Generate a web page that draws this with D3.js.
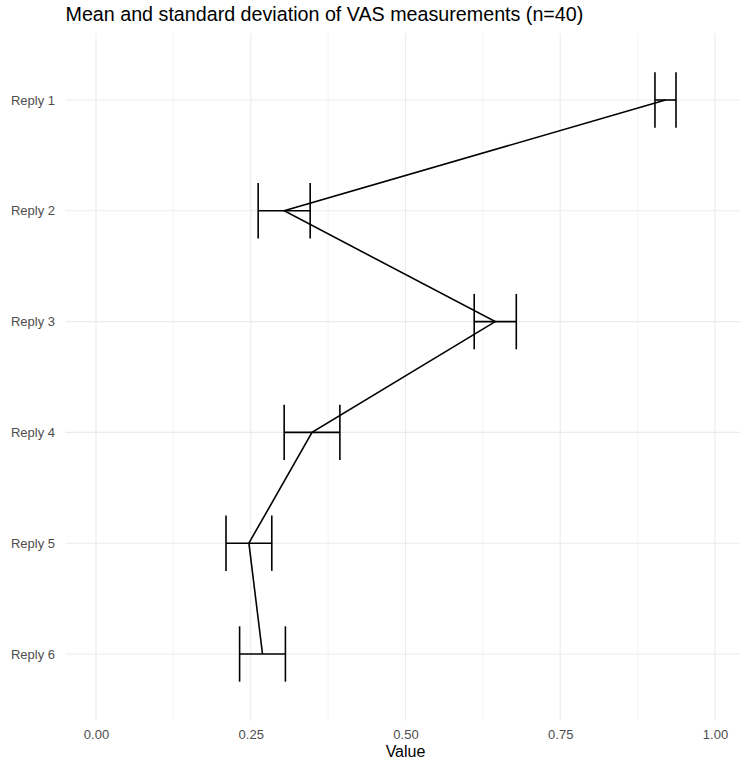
<!DOCTYPE html>
<html>
<head>
<meta charset="utf-8">
<script src="https://cdn.jsdelivr.net/npm/d3@7"></script>
<style>
  body { margin: 0; background: #fff; }
  svg { display: block; font-family: "Liberation Sans", Arial, sans-serif; }
</style>
</head>
<body>
<div id="chart"></div>
<script>
// data
const replies = ["Reply 1", "Reply 2", "Reply 3", "Reply 4", "Reply 5", "Reply 6"];
const means = [0.920, 0.304, 0.645, 0.349, 0.247, 0.269];
const sds = [0.017, 0.042, 0.034, 0.045, 0.037, 0.037];
const xTicks = [0, 0.25, 0.5, 0.75, 1];
const xMinor = [0.125, 0.375, 0.625, 0.875];

const width = 740, height = 762;
const panel = { left: 65.5, right: 740, top: 33.5, bottom: 720.5 };

const svg = d3.select("#chart").append("svg")
  .attr("width", width)
  .attr("height", height);

const x = d3.scaleLinear().domain([0, 1]).range([96, 715]);
const y = d3.scalePoint().domain(replies).range([100, 654]);
const band = y.step();

// grid
const grid = svg.append("g");
grid.selectAll("line.minor")
  .data(xMinor)
  .enter().append("line")
  .attr("x1", d => x(d)).attr("x2", d => x(d))
  .attr("y1", panel.top).attr("y2", panel.bottom)
  .attr("stroke", "#EBEBEB").attr("stroke-width", 0.55);
grid.selectAll("line.majx")
  .data(xTicks)
  .enter().append("line")
  .attr("x1", d => x(d)).attr("x2", d => x(d))
  .attr("y1", panel.top).attr("y2", panel.bottom)
  .attr("stroke", "#EBEBEB").attr("stroke-width", 1.1);
grid.selectAll("line.majy")
  .data(replies)
  .enter().append("line")
  .attr("x1", panel.left).attr("x2", panel.right)
  .attr("y1", d => y(d)).attr("y2", d => y(d))
  .attr("stroke", "#EBEBEB").attr("stroke-width", 1.1);

// axes
const xAxis = svg.append("g")
  .attr("transform", `translate(0,${panel.bottom})`)
  .call(d3.axisBottom(x).tickValues(xTicks).tickFormat(d3.format(".2f")).tickSize(0).tickPadding(9));
const yAxis = svg.append("g")
  .attr("transform", `translate(${panel.left},0)`)
  .call(d3.axisLeft(y).tickSize(0).tickPadding(10.5));
[xAxis, yAxis].forEach(a => {
  a.select(".domain").remove();
  a.selectAll("text")
    .attr("fill", "#4D4D4D")
    .attr("font-size", "13px")
    .attr("font-family", "Liberation Sans, Arial, sans-serif");
});

// line joining means
const pts = replies.map((r, i) => ({ r, m: means[i], s: sds[i] }));
svg.append("path")
  .datum(pts)
  .attr("fill", "none")
  .attr("stroke", "#000")
  .attr("stroke-width", 1.6)
  .attr("d", d3.line().x(d => x(d.m)).y(d => y(d.r)));

// error bars
const eb = svg.append("g").attr("stroke", "#000").attr("stroke-width", 1.6);
const bars = eb.selectAll("g").data(pts).enter().append("g");
bars.append("line")
  .attr("x1", d => x(d.m - d.s)).attr("x2", d => x(d.m + d.s))
  .attr("y1", d => y(d.r)).attr("y2", d => y(d.r));
bars.append("line")
  .attr("x1", d => x(d.m - d.s)).attr("x2", d => x(d.m - d.s))
  .attr("y1", d => y(d.r) - band * 0.25).attr("y2", d => y(d.r) + band * 0.25);
bars.append("line")
  .attr("x1", d => x(d.m + d.s)).attr("x2", d => x(d.m + d.s))
  .attr("y1", d => y(d.r) - band * 0.25).attr("y2", d => y(d.r) + band * 0.25);

// labels
svg.append("text")
  .attr("x", panel.left)
  .attr("y", 21)
  .attr("font-size", "19.7px")
  .attr("fill", "#000")
  .text("Mean and standard deviation of VAS measurements (n=40)");

svg.append("text")
  .attr("x", x(0.5))
  .attr("y", 756.5)
  .attr("text-anchor", "middle")
  .attr("font-size", "16px")
  .attr("fill", "#000")
  .text("Value");
</script>
</body>
</html>
